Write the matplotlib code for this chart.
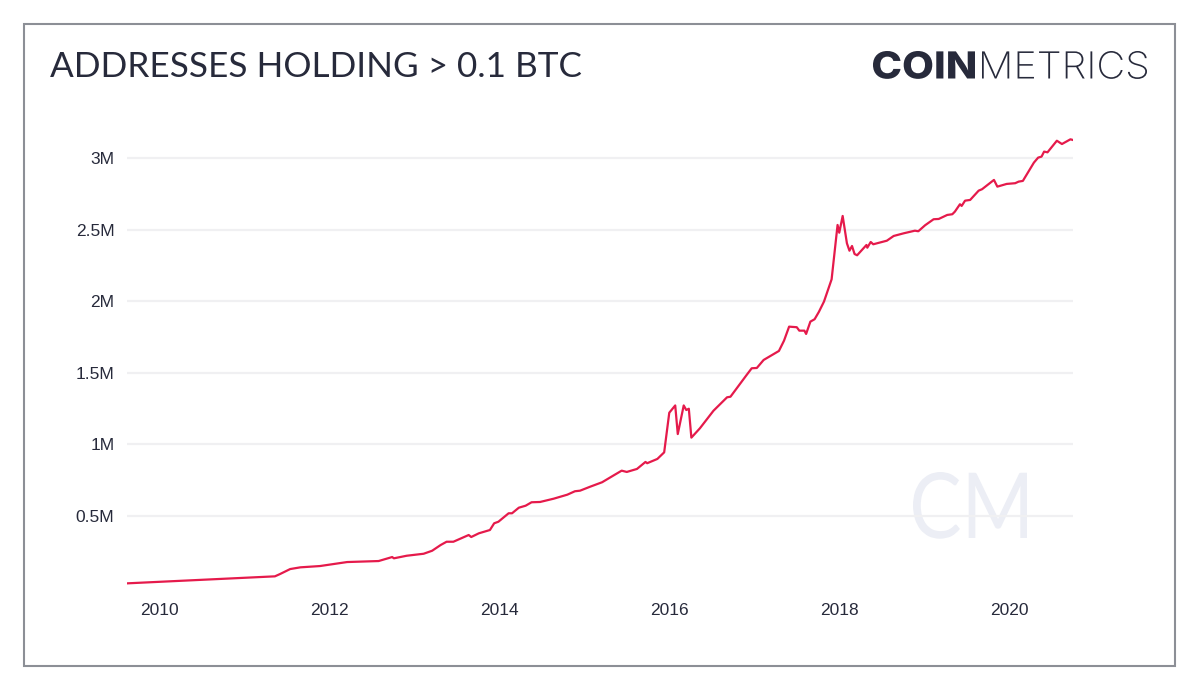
import numpy as np
import matplotlib
matplotlib.use("Agg")
import matplotlib.pyplot as plt
from matplotlib.patches import Rectangle, PathPatch
from matplotlib.textpath import TextPath
from matplotlib.font_manager import FontProperties
from matplotlib.transforms import Affine2D

# addresses holding > 0.1 BTC (decimal year, millions)
years = [2009.62, 2011.36, 2011.42, 2011.54, 2011.66, 2011.89, 2012.21, 2012.58,
         2012.74, 2012.76, 2012.91, 2013.11, 2013.21, 2013.31, 2013.38, 2013.46,
         2013.64, 2013.67, 2013.76, 2013.89, 2013.94, 2013.99, 2014.11, 2014.15,
         2014.23, 2014.31, 2014.38, 2014.48, 2014.64, 2014.80, 2014.89, 2014.95,
         2015.07, 2015.21, 2015.34, 2015.44, 2015.50, 2015.62, 2015.72, 2015.74,
         2015.86, 2015.94, 2016.00, 2016.07, 2016.10, 2016.17, 2016.20, 2016.23,
         2016.26, 2016.36, 2016.52, 2016.68, 2016.72, 2016.91, 2016.97, 2017.03,
         2017.11, 2017.21, 2017.29, 2017.35, 2017.41, 2017.50, 2017.53, 2017.59,
         2017.61, 2017.66, 2017.71, 2017.76, 2017.82, 2017.91, 2017.98, 2018.00,
         2018.04, 2018.09, 2018.12, 2018.15, 2018.18, 2018.21, 2018.32, 2018.33,
         2018.37, 2018.40, 2018.56, 2018.64, 2018.76, 2018.89, 2018.93, 2019.01,
         2019.11, 2019.17, 2019.27, 2019.33, 2019.36, 2019.42, 2019.44, 2019.48,
         2019.54, 2019.64, 2019.68, 2019.82, 2019.86, 2019.97, 2020.07, 2020.11,
         2020.16, 2020.29, 2020.34, 2020.38, 2020.41, 2020.45, 2020.56, 2020.62,
         2020.72, 2020.75]
holders = [0.029, 0.078, 0.094, 0.129, 0.141, 0.150, 0.178, 0.185,
           0.213, 0.204, 0.222, 0.236, 0.257, 0.297, 0.320, 0.320,
           0.367, 0.353, 0.379, 0.402, 0.449, 0.460, 0.519, 0.519,
           0.558, 0.572, 0.596, 0.598, 0.621, 0.649, 0.673, 0.677,
           0.705, 0.736, 0.782, 0.817, 0.808, 0.829, 0.878, 0.869,
           0.899, 0.945, 1.222, 1.273, 1.073, 1.273, 1.241, 1.250,
           1.048, 1.113, 1.236, 1.330, 1.334, 1.486, 1.533, 1.535,
           1.591, 1.626, 1.654, 1.726, 1.824, 1.820, 1.796, 1.796,
           1.773, 1.859, 1.876, 1.927, 1.999, 2.155, 2.535, 2.481,
           2.598, 2.407, 2.355, 2.388, 2.332, 2.323, 2.395, 2.376,
           2.416, 2.400, 2.425, 2.458, 2.477, 2.495, 2.491, 2.533,
           2.575, 2.577, 2.605, 2.610, 2.628, 2.680, 2.668, 2.705,
           2.710, 2.775, 2.785, 2.850, 2.803, 2.822, 2.827, 2.838,
           2.843, 2.971, 3.006, 3.013, 3.048, 3.043, 3.124, 3.101,
           3.134, 3.129]

ytick_vals = [0.5, 1.0, 1.5, 2.0, 2.5, 3.0]
ytick_labels = ["0.5M", "1M", "1.5M", "2M", "2.5M", "3M"]
xtick_vals = [2010, 2012, 2014, 2016, 2018, 2020]

navy = "#272a3b"
W, H = 1200, 692

fig = plt.figure(figsize=(12, 6.92), dpi=100)
fig.patch.set_facecolor("white")
pix = Affine2D().scale(1 / W, 1 / H) + fig.transFigure


def word_in_box(text, family, weight, x0, x1, top, base, color, z=5):
    # draw text as a path squeezed into a pixel box (top/base measured from the top)
    tp = TextPath((0, 0), text, size=100, prop=FontProperties(family=family, weight=weight))
    ext = tp.get_extents()
    sx = (x1 - x0) / ext.width
    sy = (base - top) / ext.y1
    tr = Affine2D().translate(-ext.x0, 0).scale(sx, sy).translate(x0, H - base)
    fig.add_artist(PathPatch(tr.transform_path(tp), transform=pix, facecolor=color,
                             edgecolor="none", zorder=z))


# outer frame
fig.patches.append(Rectangle((24 / W, 1 - 666 / H), (1175 - 24) / W, (666 - 24) / H,
                             transform=fig.transFigure, fill=False,
                             edgecolor="#8c8f96", linewidth=1.5))

# watermark
word_in_box("CM", "Lato", "normal", 913, 1027, 472, 538, "#eceef5", z=0)

ax = fig.add_axes([127 / W, 1 - 587.5 / H, (1073 - 127) / W, (587.5 - 125) / H])
ax.set_facecolor("none")
ax.plot(years, holders, color="#e51a4b", linewidth=1.6, zorder=3)

ax.set_xlim(2009.62, 2020.75)
ax.set_ylim(0, 3.234)
ax.set_yticks(ytick_vals)
ax.set_yticklabels(ytick_labels)
ax.set_xticks(xtick_vals)
ax.set_xticklabels([str(y) for y in xtick_vals])
ax.grid(axis="y", color="#f0f0f2", linewidth=1.6)
ax.set_axisbelow(True)
for s in ax.spines.values():
    s.set_visible(False)
ax.tick_params(axis="both", length=0, labelcolor=navy, labelsize=12.5)
ax.tick_params(axis="y", pad=9)
ax.tick_params(axis="x", pad=11)
for lab in ax.get_xticklabels() + ax.get_yticklabels():
    lab.set_family("Liberation Sans")

# title
fig.text(50 / W, 1 - 77 / H, "ADDRESSES HOLDING > 0.1 BTC", ha="left", va="baseline",
         fontsize=25.3, family="Lato", color=navy)

# logo: bold COIN + light METRICS
word_in_box("COIN", "Inter", "heavy", 873, 975, 51, 78.5, navy)
word_in_box("METRICS", "Inter", "light", 982, 1147, 51, 78.5, navy)

fig.savefig("out.png", dpi=100, facecolor="white")
